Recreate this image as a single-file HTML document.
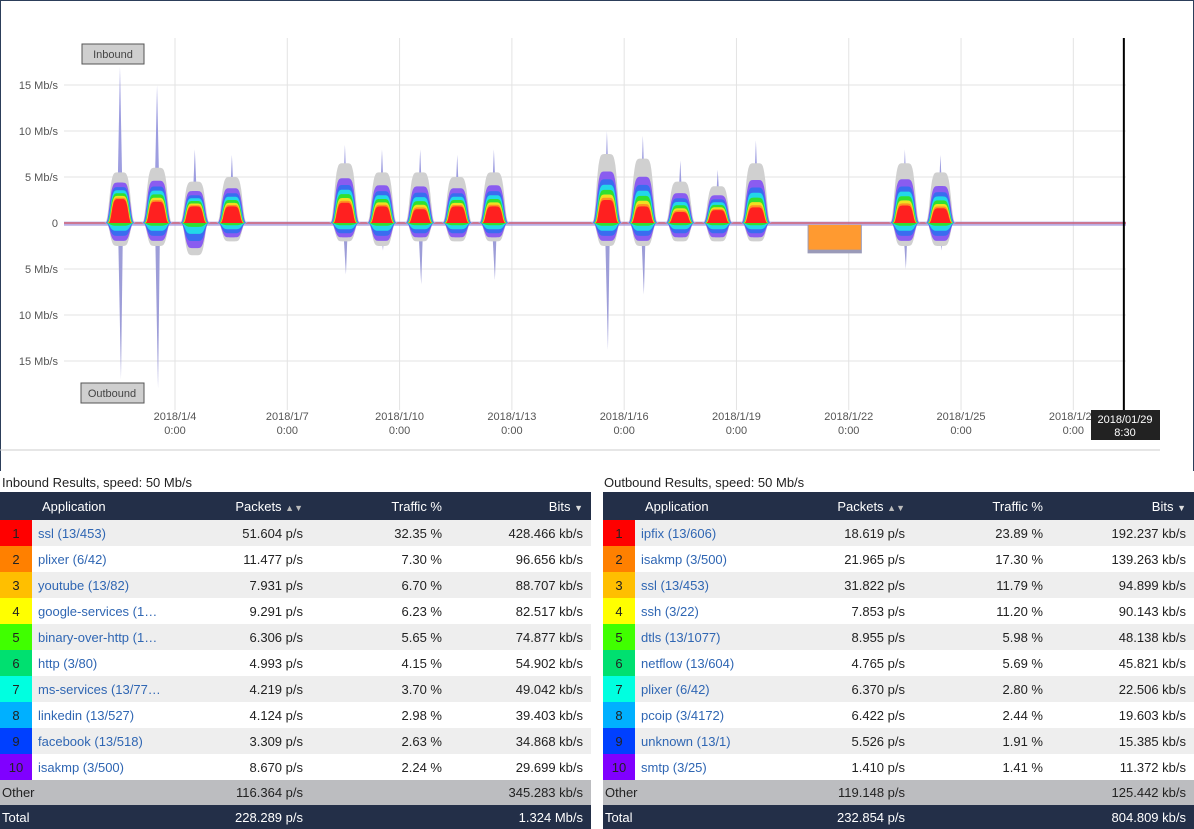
<!DOCTYPE html>
<html><head><meta charset="utf-8"><style>
body{margin:0;width:1194px;height:828px;overflow:hidden;background:#fff;font-family:"Liberation Sans",Verdana,sans-serif;position:relative}
#frame{position:absolute;left:0;top:0;width:1192px;height:470px;border-left:1px solid #2c3e5a;border-top:1px solid #2c3e5a;border-right:1px solid #2c3e5a}
svg{position:absolute;left:0;top:0}
.title{position:absolute;top:475px;font-size:13px;color:#222}
table{position:absolute;top:492px;border-collapse:collapse;font-size:13px;width:591px;table-layout:fixed}
th{background:#232f48;color:#fff;font-weight:normal;height:28px;padding:0 8px}
td{height:26px;padding:0 8px;color:#222;white-space:nowrap;overflow:hidden}
tr.a td{background:#eeeeee}tr.b td{background:#fff}
td.sw{padding:0;text-align:center;color:#222}
td.app{color:#2f66b3;padding-left:6px}
td.r,th.r{text-align:right}
tr.oth td{background:#bcbdc0;height:25px}
tr.tot td{background:#232f48;color:#fff;height:24px}
.arr{font-size:9px;color:#bbb}
</style></head><body>
<div id="frame"></div>
<svg id="chart" width="1194" height="460"></svg>
<div class="title" style="left:2px">Inbound Results, speed: 50 Mb/s</div>
<div class="title" style="left:604px">Outbound Results, speed: 50 Mb/s</div>

<table style="left:0">
<colgroup><col style="width:32px"><col style="width:170px"><col style="width:109px"><col style="width:139px"><col style="width:141px"></colgroup>
<tr><th></th><th style="text-align:left;padding-left:10px">Application</th><th class="r">Packets <span class="arr">▲▼</span></th><th class="r">Traffic %</th><th class="r">Bits <span class="arr" style="color:#ddd">▼</span></th></tr>
<tbody id="inBody"></tbody></table>
<table style="left:603px">
<colgroup><col style="width:32px"><col style="width:170px"><col style="width:108px"><col style="width:138px"><col style="width:143px"></colgroup>
<tr><th></th><th style="text-align:left;padding-left:10px">Application</th><th class="r">Packets <span class="arr">▲▼</span></th><th class="r">Traffic %</th><th class="r">Bits <span class="arr" style="color:#ddd">▼</span></th></tr>
<tbody id="outBody"></tbody></table>

<script>
// ---- chart data ----
const yTicks=[15,10,5,0,-5,-10,-15];
const xTickDays=[4,7,10,13,16,19,22,25,28];
const xTickLabels=["2018/1/4","2018/1/7","2018/1/10","2018/1/13","2018/1/16","2018/1/19","2018/1/22","2018/1/25","2018/1/28"];
const burstDays=[2.53,3.52,4.53,5.52,8.54,9.53,10.55,11.54,12.52,15.54,16.5,17.5,18.5,19.52,23.5,24.45];
const inTotal=[5.5,6,4.5,5,6.5,5.5,5.5,5,5.5,7.5,7,4.5,4,6.5,6.5,5.5];
const inRed=[2.6,2.3,1.8,1.8,2.2,1.8,1.5,1.8,1.8,2.5,1.8,1.2,1.4,1.7,1.9,1.6];
const inSpike=[17,15,8,7.4,8.5,8,8,7.4,8,10,9.5,6.8,5.8,9,8,7.4];
const outTotal=[2.5,2.5,3.5,2,2,2.5,2,2,2,2.5,2.5,2,2,2,2.5,2.5];
const outSpike=[17,18,3,2,5.6,3,6.7,2,6.2,13.8,7.8,2,2,2,5,3];
const blockStart=[20.9], blockEnd=[22.35], blockDepth=[2.9];
const cursorDay=29.35;

const svg=document.getElementById('chart');const NS='http://www.w3.org/2000/svg';
const X=d=>175+(d-4)*37.43; const Y=v=>223-v*9.2;
function el(t,a){const e=document.createElementNS(NS,t);for(const k in a)e.setAttribute(k,a[k]);svg.appendChild(e);return e;}
yTicks.forEach(v=>{const g=el('line',{x1:64,x2:1126,y1:Y(v),y2:Y(v),stroke:'#e3e3e3'});

const t=el('text',{x:58,y:Y(v)+4,'text-anchor':'end','font-size':11,fill:'#555'});t.textContent=v===0?'0':Math.abs(v)+' Mb/s';
});
xTickDays.forEach((d,i)=>{const g=el('line',{x1:X(d),x2:X(d),y1:38,y2:410,stroke:'#e3e3e3'});

const t=el('text',{x:X(d),y:420,'text-anchor':'middle','font-size':11,fill:'#555'});t.textContent=xTickLabels[i];

const t2=el('text',{x:X(d),y:434,'text-anchor':'middle','font-size':11,fill:'#555'});t2.textContent='0:00';
});
el('line',{x1:0,x2:1160,y1:450,y2:450,stroke:'#ccc'});
const cols=['#d0d0d0','#8a5cf0','#3a6cf0','#22d8e8','#30e030','#f0e020','#ff9020','#ff2020'];
const frac=[1,0.62,0.45,0.33,0.22,0.12,0.05,0];
const bl=el('rect',{x:64,y:Y(0.15),width:1062,height:Y(-0.3)-Y(0.15),fill:'#9a8ad8',opacity:0.7});

el('line',{x1:64,x2:1126,y1:Y(0),y2:Y(0),stroke:'#e04040','stroke-width':1});
function bump(c,h,w,sign){let p='';for(let i=0;i<=40;i++){const t=c-w*1.5+i*w*3/40;const f=Math.exp(-Math.pow((t-c)/w,6));p+=(i?'L':'M')+X(t).toFixed(1)+','+Y(sign*h*f).toFixed(1);}
return p+'Z';}
burstDays.forEach((c,i)=>{
 const s1=el('path',{d:`M${X(c)-3},${Y(0)}L${X(c)},${Y(inSpike[i])}L${X(c)+3},${Y(0)}Z`,fill:'#9d9de0'});
 
 const s2=el('path',{d:`M${X(c)-2},${Y(0)}L${X(c)+1},${Y(-outSpike[i])}L${X(c)+3},${Y(0)}Z`,fill:'#9d9dd8'});
 
 cols.forEach((col,k)=>{const h=inRed[i]+(inTotal[i]-inRed[i])*frac[k];
  const p=el('path',{d:bump(c,h,0.3-k*0.01,1),fill:col});
  if(k<5){const q=el('path',{d:bump(c,outTotal[i]*(1-k*0.22),0.28,-1),fill:col});}
 });
});
blockStart.forEach((s,i)=>{const g=el('rect',{x:X(s),y:Y(-0.2),width:X(blockEnd[i])-X(s),height:Y(-blockDepth[i]-0.4)-Y(-0.2),fill:'#9a9ab8'});

const r=el('rect',{x:X(s)+1,y:Y(-0.2),width:X(blockEnd[i])-X(s)-2,height:Y(-blockDepth[i])-Y(-0.2),fill:'#ff9a30'});
});
const ib=el('rect',{x:82,y:44,width:62,height:20,fill:'#cfcfcf',stroke:'#555'});
let t=el('text',{x:113,y:58,'text-anchor':'middle','font-size':11,fill:'#444'});t.textContent='Inbound';
const ob=el('rect',{x:81,y:383,width:63,height:20,fill:'#cfcfcf',stroke:'#555'});
t=el('text',{x:112,y:397,'text-anchor':'middle','font-size':11,fill:'#444'});t.textContent='Outbound';
const cl=el('line',{x1:X(cursorDay),x2:X(cursorDay),y1:38,y2:410,stroke:'#000','stroke-width':2});
const tb=el('rect',{x:1091,y:410,width:69,height:30,fill:'#222'});
t=el('text',{x:1125,y:423,'text-anchor':'middle','font-size':11,fill:'#fff'});t.textContent='2018/01/29';
t=el('text',{x:1125,y:436,'text-anchor':'middle','font-size':11,fill:'#fff'});t.textContent='8:30';

// ---- tables ----
const sw=['#ff0000','#ff8000','#ffbf00','#ffff00','#40ff00','#00e070','#00ffe0','#00b0ff','#0040ff','#8000ff'];
const inApps=['ssl (13/453)','plixer (6/42)','youtube (13/82)','google-services (1…','binary-over-http (1…','http (3/80)','ms-services (13/77…','linkedin (13/527)','facebook (13/518)','isakmp (3/500)'];
const inPk=['51.604 p/s','11.477 p/s','7.931 p/s','9.291 p/s','6.306 p/s','4.993 p/s','4.219 p/s','4.124 p/s','3.309 p/s','8.670 p/s'];
const inTr=['32.35 %','7.30 %','6.70 %','6.23 %','5.65 %','4.15 %','3.70 %','2.98 %','2.63 %','2.24 %'];
const inBits=['428.466 kb/s','96.656 kb/s','88.707 kb/s','82.517 kb/s','74.877 kb/s','54.902 kb/s','49.042 kb/s','39.403 kb/s','34.868 kb/s','29.699 kb/s'];
const outApps=['ipfix (13/606)','isakmp (3/500)','ssl (13/453)','ssh (3/22)','dtls (13/1077)','netflow (13/604)','plixer (6/42)','pcoip (3/4172)','unknown (13/1)','smtp (3/25)'];
const outPk=['18.619 p/s','21.965 p/s','31.822 p/s','7.853 p/s','8.955 p/s','4.765 p/s','6.370 p/s','6.422 p/s','5.526 p/s','1.410 p/s'];
const outTr=['23.89 %','17.30 %','11.79 %','11.20 %','5.98 %','5.69 %','2.80 %','2.44 %','1.91 %','1.41 %'];
const outBits=['192.237 kb/s','139.263 kb/s','94.899 kb/s','90.143 kb/s','48.138 kb/s','45.821 kb/s','22.506 kb/s','19.603 kb/s','15.385 kb/s','11.372 kb/s'];
function fill(id,apps,pk,tr,bits,oth,tot){const b=document.getElementById(id);let h='';
apps.forEach((a,i)=>{h+=`<tr class="${i%2?'b':'a'}"><td class="sw" style="background:${sw[i]}">${i+1}</td><td class="app">${a}</td><td class="r">${pk[i]}</td><td class="r">${tr[i]}</td><td class="r">${bits[i]}</td></tr>`;});
h+=`<tr class="oth"><td colspan="2" style="padding-left:2px">Other</td><td class="r">${oth[0]}</td><td></td><td class="r">${oth[1]}</td></tr>`;
h+=`<tr class="tot"><td colspan="2" style="padding-left:2px">Total</td><td class="r">${tot[0]}</td><td></td><td class="r">${tot[1]}</td></tr>`;
b.innerHTML=h;}
fill('inBody',inApps,inPk,inTr,inBits,['116.364 p/s','345.283 kb/s'],['228.289 p/s','1.324 Mb/s']);
fill('outBody',outApps,outPk,outTr,outBits,['119.148 p/s','125.442 kb/s'],['232.854 p/s','804.809 kb/s']);
</script>
</body></html>
